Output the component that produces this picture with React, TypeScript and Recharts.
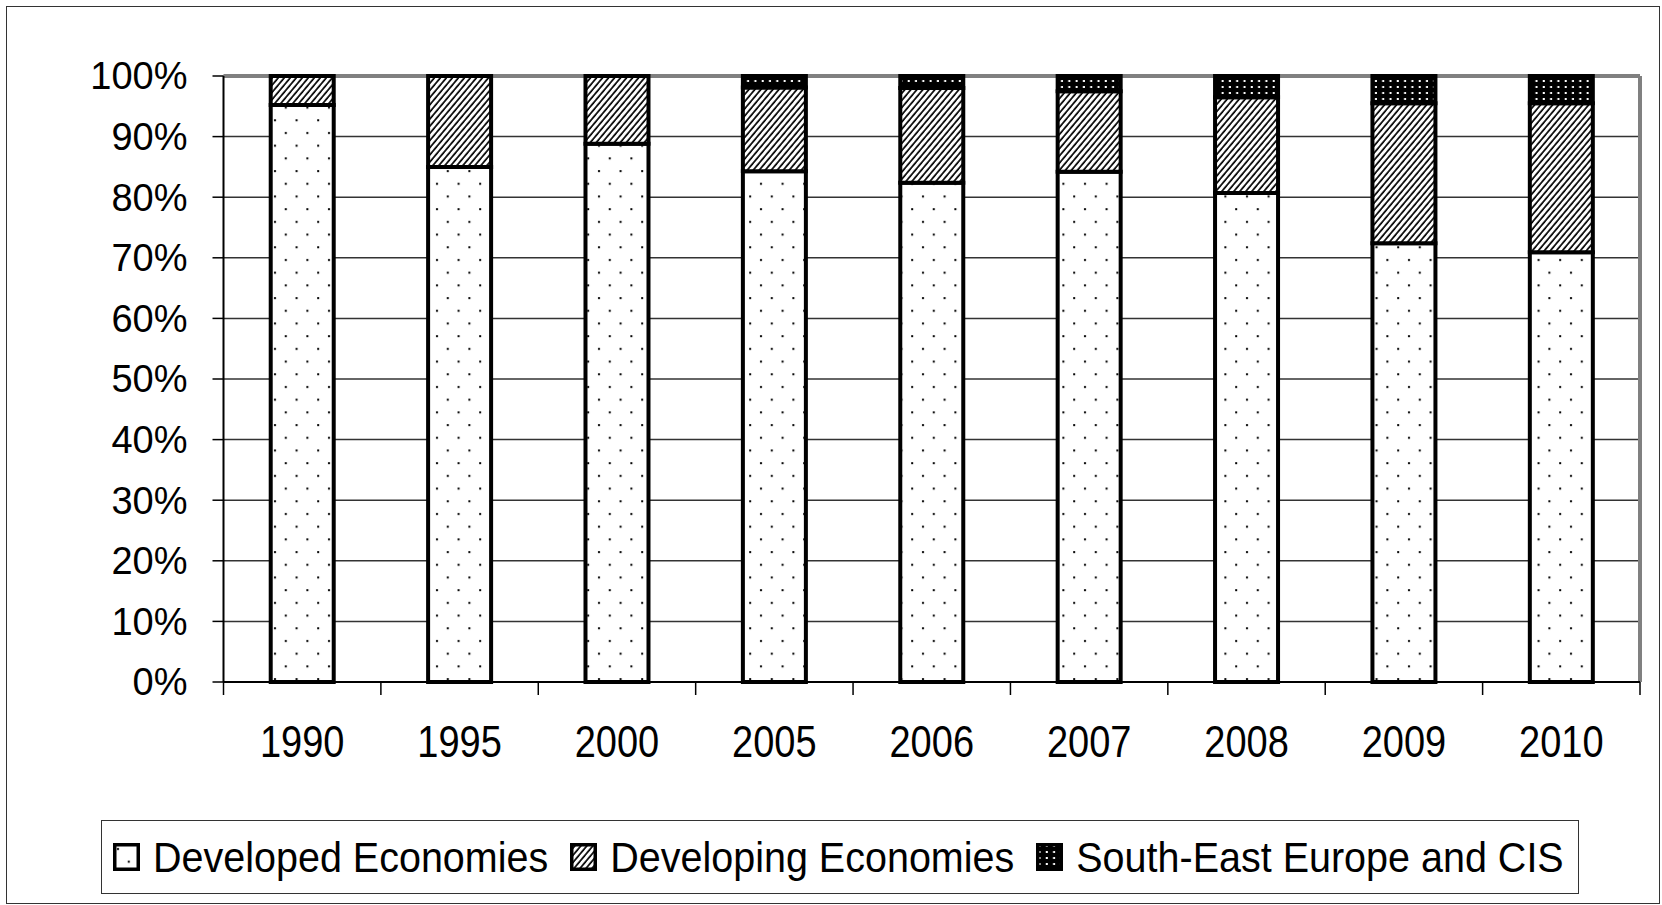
import React from "react";
import { Bar, BarChart, CartesianGrid, XAxis, YAxis } from "recharts";

const years = ["1990", "1995", "2000", "2005", "2006", "2007", "2008", "2009", "2010"];
const developed = [95.2, 85.0, 88.8, 84.3, 82.4, 84.2, 80.7, 72.4, 70.9];
const developing = [4.8, 15.0, 11.2, 13.8, 15.6, 13.3, 15.8, 23.1, 24.6];
const seeCis = [0, 0, 0, 1.9, 2.0, 2.5, 3.5, 4.5, 4.5];
const yTicks = [0, 10, 20, 30, 40, 50, 60, 70, 80, 90, 100];

const seriesNames = ["Developed Economies", "Developing Economies", "South-East Europe and CIS"];
const patternIds = ["dotsLight", "hatch", "dotsDark"];

const data = years.map((year, i) => ({
  year,
  developed: developed[i],
  developing: developing[i],
  see: seeCis[i],
}));

const W = 1662;
const H = 905;
const PLOT_LEFT = 223.5;
const PLOT_RIGHT = 1640;
const PLOT_TOP = 76;
const PLOT_BOTTOM = 682;
const CAT_W = (PLOT_RIGHT - PLOT_LEFT) / years.length;
const FONT = "'Liberation Sans', Arial, sans-serif";

function Patterns() {
  return (
    <svg width={0} height={0} style={{ position: "absolute" }}>
      <defs>
        <pattern id="dotsLight" patternUnits="userSpaceOnUse" width={21.6} height={25.4}>
          <rect width={21.6} height={25.4} fill="#fff" />
          <rect x={4} y={5} width={2} height={2} fill="#000" />
          <rect x={14.8} y={17.7} width={2} height={2} fill="#000" />
        </pattern>
        <pattern id="hatch" patternUnits="userSpaceOnUse" width={4.6} height={10} patternTransform="rotate(40)">
          <rect width={4.6} height={10} fill="#fff" />
          <line x1={1} y1={0} x2={1} y2={10} stroke="#000" strokeWidth={1.7} />
        </pattern>
        <pattern id="dotsDark" patternUnits="userSpaceOnUse" width={7.3} height={6}>
          <rect width={7.3} height={6} fill="#000" />
          <rect x={2.5} y={2} width={2} height={2} fill="#fff" />
        </pattern>
      </defs>
    </svg>
  );
}

function YearTick(props: any) {
  const { x, y, payload, index } = props;
  const half = CAT_W / 2;
  return (
    <g>
      <line x1={x - half} x2={x - half} y1={y} y2={y + 13} stroke="#000" strokeWidth={1.5} />
      {index === years.length - 1 && (
        <line x1={x + half} x2={x + half} y1={y} y2={y + 13} stroke="#000" strokeWidth={1.5} />
      )}
      <text
        transform={`translate(${x},${y + 75}) scale(1,1.17)`}
        textAnchor="middle"
        fontSize={38}
        fontFamily={FONT}
        fill="#000"
      >
        {payload.value}
      </text>
    </g>
  );
}

function LegendBox() {
  return (
    <div
      style={{
        position: "absolute",
        left: 101,
        top: 820,
        width: 1478,
        height: 74,
        boxSizing: "border-box",
        border: "1.5px solid #333",
        background: "#fff",
        display: "flex",
        alignItems: "center",
        paddingLeft: 11,
        fontFamily: FONT,
        fontSize: 39.5,
        color: "#000",
      }}
    >
      {seriesNames.map((name, i) => (
        <div key={name} style={{ display: "flex", alignItems: "center", marginRight: 22 }}>
          <svg width={27} height={28} style={{ marginRight: 13 }}>
            <rect x={1.75} y={1.75} width={23.5} height={24.5} fill={`url(#${patternIds[i]})`} stroke="#000" strokeWidth={3.5} />
          </svg>
          <span style={{ display: "inline-block", transform: "scaleY(1.06)", whiteSpace: "nowrap" }}>{name}</span>
        </div>
      ))}
    </div>
  );
}

export default function App() {
  return (
    <div style={{ position: "absolute", left: 0, top: 0, width: W, height: H, background: "#fff" }}>
      <Patterns />
      <div
        style={{
          position: "absolute",
          left: 6,
          top: 6,
          width: 1654,
          height: 898,
          boxSizing: "border-box",
          border: "1.5px solid #333",
        }}
      />
      <div style={{ position: "absolute", left: 0, top: 0 }}>
        <BarChart
          width={W}
          height={H}
          data={data}
          barCategoryGap="30%"
          margin={{ top: PLOT_TOP, right: W - PLOT_RIGHT, left: PLOT_LEFT - 200, bottom: H - PLOT_BOTTOM - 100 }}
        >
          <CartesianGrid vertical={false} stroke="#333" strokeWidth={1.5} />
          {/* gray plot-area frame on top and right, kept under the bars */}
          <CartesianGrid horizontalPoints={[PLOT_TOP]} verticalPoints={[PLOT_RIGHT]} stroke="#808080" strokeWidth={4} />
          <XAxis
            dataKey="year"
            height={100}
            interval={0}
            tickLine={false}
            tickSize={0}
            tickMargin={0}
            axisLine={{ stroke: "#000", strokeWidth: 2 }}
            tick={<YearTick />}
          />
          <YAxis
            width={200}
            domain={[0, 100]}
            ticks={yTicks}
            interval={0}
            tickFormatter={(v) => `${v}%`}
            tickSize={11}
            tickMargin={25}
            tickLine={{ stroke: "#000", strokeWidth: 1.5 }}
            axisLine={{ stroke: "#000", strokeWidth: 2 }}
            tick={{ fontSize: 38, fontFamily: FONT, fill: "#000" }}
          />
          <Bar dataKey="developed" stackId="a" fill="url(#dotsLight)" stroke="#000" strokeWidth={4} isAnimationActive={false} />
          <Bar dataKey="developing" stackId="a" fill="url(#hatch)" stroke="#000" strokeWidth={4} isAnimationActive={false} />
          <Bar dataKey="see" stackId="a" fill="url(#dotsDark)" stroke="#000" strokeWidth={4} isAnimationActive={false} />
        </BarChart>
      </div>
      <LegendBox />
    </div>
  );
}
